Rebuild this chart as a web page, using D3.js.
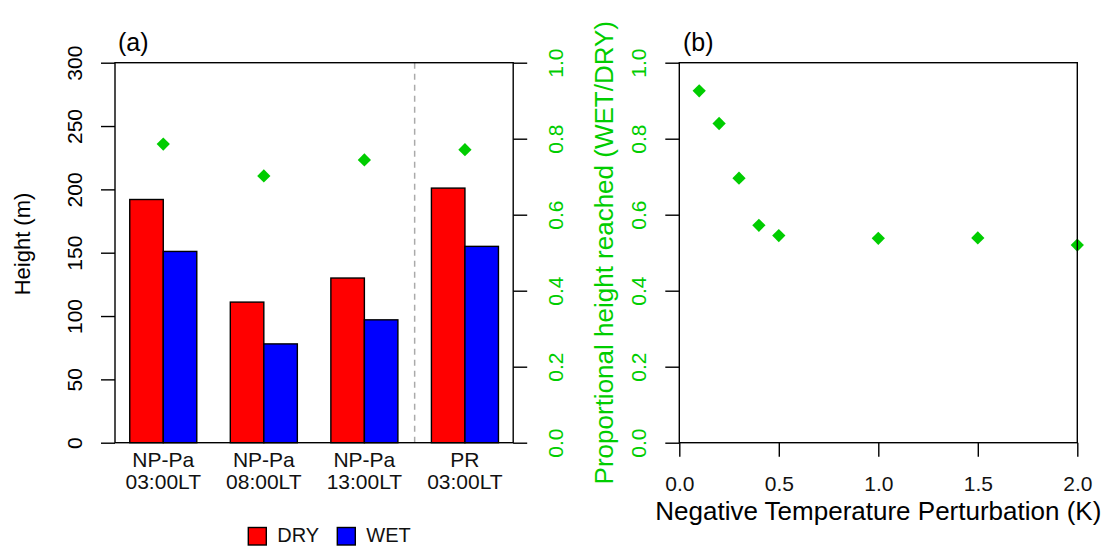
<!DOCTYPE html>
<html><head><meta charset="utf-8">
<script src="https://cdn.jsdelivr.net/npm/d3@7/dist/d3.min.js"></script>
<style>
html,body{margin:0;padding:0;background:#fff;}
svg{display:block;font-family:"Liberation Sans",Arial,Helvetica,sans-serif;}
</style></head>
<body>
<svg id="chart" width="1110" height="546"></svg>
<script>
// ---- data ----
const categories = [["NP-Pa","03:00LT"],["NP-Pa","08:00LT"],["NP-Pa","13:00LT"],["PR","03:00LT"]];
const dryHeight = [192, 111, 130, 201];
const wetHeight = [151, 78, 97, 155];
const ratioA = [0.786, 0.702, 0.744, 0.771];
const perturbation = [0.1, 0.2, 0.3, 0.4, 0.5, 1.0, 1.5, 2.0];
const ratioB = [0.926, 0.840, 0.696, 0.572, 0.545, 0.538, 0.539, 0.520];
const heightTicks = [0, 50, 100, 150, 200, 250, 300];
const ratioTicks = [0, 0.2, 0.4, 0.6, 0.8, 1.0];
const perturbTicks = [0, 0.5, 1.0, 1.5, 2.0];
const seriesNames = ["DRY", "WET"];
const seriesColors = ["#ff0000", "#0000ff"];
const GREEN = "#00cd00";

const svg = d3.select("#chart");
const pTop = 62.7, pBottom = 442.7;
const LW = 1.4;
const tickFont = 21;

// ---------- Panel (a) ----------
const aL = 115, aR = 513.2;
const xa = d3.scaleLinear().domain([0.56, 12.44]).range([aL, aR]);
const ya = d3.scaleLinear().domain([0, 300]).range([pBottom, pTop]);
const yaR = d3.scaleLinear().domain([0, 1]).range([pBottom, pTop]);

const gA = svg.append("g");

// bars
categories.forEach((c, i) => {
  const start = 1 + 3 * i;
  [dryHeight[i], wetHeight[i]].forEach((v, j) => {
    gA.append("rect")
      .attr("x", xa(start + j))
      .attr("width", xa(start + j + 1) - xa(start + j))
      .attr("y", ya(v))
      .attr("height", ya(0) - ya(v))
      .attr("fill", seriesColors[j])
      .attr("stroke", "#000")
      .attr("stroke-width", LW);
  });
});

// dashed separator
gA.append("line")
  .attr("x1", xa(9.5)).attr("x2", xa(9.5))
  .attr("y1", pTop).attr("y2", pBottom)
  .attr("stroke", "#aaaaaa").attr("stroke-width", 1.5)
  .attr("stroke-dasharray", "6,5");

// diamonds
const diamond = d3.symbol().type(d3.symbolSquare).size(88);
gA.selectAll("path.da").data(ratioA).join("path")
  .attr("class", "da")
  .attr("d", diamond)
  .attr("transform", (d, i) => `translate(${xa(2 + 3 * i)},${yaR(d)}) rotate(45)`)
  .attr("fill", GREEN);

// box
gA.append("rect").attr("x", aL).attr("y", pTop).attr("width", aR - aL).attr("height", pBottom - pTop)
  .attr("fill", "none").attr("stroke", "#000").attr("stroke-width", LW);

function styleAxis(g, offset, color) {
  g.select(".domain").remove();
  g.selectAll(".tick line").attr("stroke", "#000").attr("stroke-width", LW);
  g.selectAll(".tick text")
    .attr("x", 0).attr("y", 0).attr("dy", 0)
    .attr("text-anchor", "middle")
    .attr("transform", `translate(${offset},0) rotate(-90)`)
    .attr("fill", color)
    .style("font-size", tickFont + "px");
}

const axL = gA.append("g").attr("transform", `translate(${aL},0)`)
  .call(d3.axisLeft(ya).tickValues(heightTicks).tickSize(14).tickSizeOuter(0).tickFormat(d3.format("d")));
styleAxis(axL, -33.5, "#000");

const axR = gA.append("g").attr("transform", `translate(${aR},0)`)
  .call(d3.axisRight(yaR).tickValues(ratioTicks).tickSize(14).tickSizeOuter(0).tickFormat(d3.format(".1f")));
styleAxis(axR, 49.3, GREEN);

// category labels
categories.forEach((c, i) => {
  const cx = xa(2 + 3 * i);
  gA.append("text").attr("x", cx).attr("y", 467.3).attr("text-anchor", "middle")
    .style("font-size", tickFont + "px").attr("fill", "#111").text(c[0]);
  gA.append("text").attr("x", cx).attr("y", 488.5).attr("text-anchor", "middle")
    .style("font-size", tickFont + "px").attr("fill", "#111").text(c[1]);
});

// y label
gA.append("text").attr("transform", "translate(30,244) rotate(-90)")
  .attr("text-anchor", "middle").style("font-size", "22px").attr("fill", "#000").text("Height (m)");

// panel label
gA.append("text").attr("x", 118).attr("y", 51).style("font-size", "25px").attr("fill", "#000").text("(a)");

// legend
const legX = [248.3, 337.3];
seriesNames.forEach((n, j) => {
  gA.append("rect").attr("x", legX[j]).attr("y", 527.5).attr("width", 18).attr("height", 17.5)
    .attr("fill", seriesColors[j]).attr("stroke", "#000").attr("stroke-width", LW);
  gA.append("text").attr("x", legX[j] + 29).attr("y", 541.8).style("font-size", "20px")
    .attr("fill", "#111").text(n);
});

// green label
svg.append("text").attr("transform", `translate(613,${(pTop + pBottom) / 2}) rotate(-90)`)
  .attr("text-anchor", "middle").style("font-size", "26px").attr("fill", GREEN)
  .text("Proportional height reached (WET/DRY)");

// ---------- Panel (b) ----------
const bL = 679.3, bR = 1077.3;
const xb = d3.scaleLinear().domain([0, 2]).range([bL, bR]);
const yb = d3.scaleLinear().domain([0, 1]).range([pBottom, pTop]);
const gB = svg.append("g");

gB.selectAll("path.db").data(perturbation).join("path")
  .attr("class", "db")
  .attr("d", diamond)
  .attr("transform", (d, i) => `translate(${xb(d)},${yb(ratioB[i])}) rotate(45)`)
  .attr("fill", GREEN);

gB.append("rect").attr("x", bL).attr("y", pTop).attr("width", bR - bL).attr("height", pBottom - pTop)
  .attr("fill", "none").attr("stroke", "#000").attr("stroke-width", LW);

const byAx = gB.append("g").attr("transform", `translate(${bL},0)`)
  .call(d3.axisLeft(yb).tickValues(ratioTicks).tickSize(14).tickSizeOuter(0).tickFormat(d3.format(".1f")));
styleAxis(byAx, -33.8, GREEN);

const bxAx = gB.append("g").attr("transform", `translate(0,${pBottom})`)
  .call(d3.axisBottom(xb).tickValues(perturbTicks).tickSize(14).tickSizeOuter(0).tickFormat(d3.format(".1f")));
bxAx.select(".domain").remove();
bxAx.selectAll(".tick line").attr("stroke", "#000").attr("stroke-width", LW);
bxAx.selectAll(".tick text").attr("y", 48).attr("dy", 0).attr("fill", "#111").style("font-size", tickFont + "px");

gB.append("text").attr("x", (bL + bR) / 2).attr("y", 519.5).attr("text-anchor", "middle")
  .style("font-size", "26px").attr("fill", "#000").text("Negative Temperature Perturbation (K)");

gB.append("text").attr("x", 683).attr("y", 51).style("font-size", "25px").attr("fill", "#000").text("(b)");
</script>
</body></html>
